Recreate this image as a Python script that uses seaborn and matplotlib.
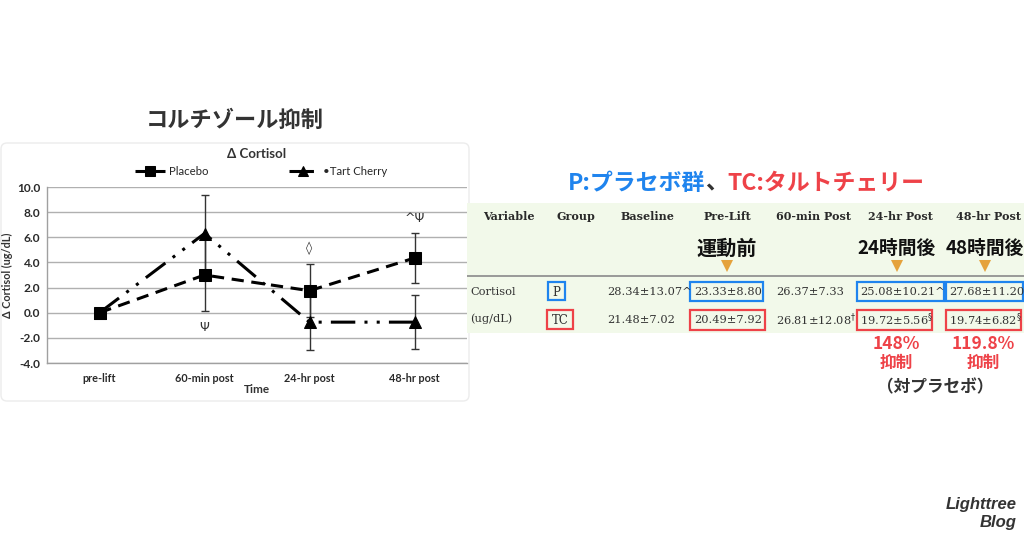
import numpy as np
import pandas as pd
import seaborn as sns
import matplotlib.pyplot as plt
from matplotlib.patches import Rectangle, FancyBboxPatch

# data
time_points = ["pre-lift", "60-min post", "24-hr post", "48-hr post"]
placebo_mean = [0.0, 3.0, 1.75, 4.35]
placebo_err = [0.0, 2.9, 2.1, 2.0]
cherry_mean = [0.0, 6.3, -0.75, -0.75]
cherry_err = [0.0, 3.1, 2.2, 2.15]
sig_marks = ["", "Ψ", "◊", "^Ψ"]
sig_y = [0.0, -1.15, 5.15, 7.5]
y_ticks = [-4.0, -2.0, 0.0, 2.0, 4.0, 6.0, 8.0, 10.0]

# table data
table_headers = ["Variable", "Group", "Baseline", "Pre-Lift", "60-min Post", "24-hr Post", "48-hr Post"]
p_row = ["28.34±13.07^", "23.33±8.80", "26.37±7.33", "25.08±10.21^", "27.68±11.20"]
tc_row = ["21.48±7.02", "20.49±7.92", r"26.81±12.08$^{\dagger}$", r"19.72±5.56$^{\S}$", r"19.74±6.82$^{\S}$"]
jp_labels = ["運動前", "24時間後", "48時間後"]
suppression = ["148%", "119.8%"]

BLUE = "#1f84ee"
RED = "#ee4248"
DARK = "#333333"

sns.set_theme(style="whitegrid")
plt.rcParams['font.family'] = ['Noto Sans CJK JP', 'DejaVu Sans']

fig = plt.figure(figsize=(10.24, 5.38), dpi=100)
fig.patch.set_facecolor("white")

# background / annotation layer in pixel coordinates
bg = fig.add_axes([0, 0, 1, 1], zorder=0)
bg.set_xlim(0, 1024)
bg.set_ylim(538, 0)
bg.axis("off")

bg.add_patch(FancyBboxPatch((1, 143), 468, 258, boxstyle="round,pad=0,rounding_size=6",
                            fc="white", ec="#ececec", lw=1))
bg.text(235, 120, "コルチゾール抑制", ha="center", va="center", fontsize=16,
        fontweight="bold", color=DARK)

# ---- chart ----
ax = fig.add_axes([47 / 1024, 1 - 363 / 538, 420 / 1024, 176 / 538], zorder=1)
df = pd.DataFrame({
    "x": list(range(4)) * 2,
    "value": placebo_mean + cherry_mean,
    "Group": ["Placebo"] * 4 + ["•Tart Cherry"] * 4,
})
sns.lineplot(data=df, x="x", y="value", style="Group",
             markers={"Placebo": "s", "•Tart Cherry": "^"},
             dashes={"Placebo": (4, 2.5), "•Tart Cherry": (8, 3, 1, 3, 1, 3)},
             color="black", lw=2.2, markersize=9, markeredgecolor="black", ax=ax)

xs = np.arange(4)
ax.errorbar(xs[1:], placebo_mean[1:], yerr=placebo_err[1:], fmt="none",
            ecolor="#333333", elinewidth=1, capsize=3, zorder=1)
ax.errorbar(xs[1:], cherry_mean[1:], yerr=cherry_err[1:], fmt="none",
            ecolor="#333333", elinewidth=1, capsize=3, zorder=1)
for i in range(1, 4):
    ax.text(xs[i], sig_y[i], sig_marks[i], ha="center", va="center",
            fontsize=9, color="#333333", family=["DejaVu Sans"])

ax.set_xlim(-0.5, 3.5)
ax.set_ylim(-4, 10)
ax.set_xticks(xs, time_points)
ax.set_yticks(y_ticks, [f"{v:.1f}" for v in y_ticks])
ax.grid(axis="x", visible=False)
ax.grid(axis="y", color="#b0b0b0", lw=1)
for s in ["top", "right"]:
    ax.spines[s].set_visible(False)
for s in ["left", "bottom"]:
    ax.spines[s].set_color("#a0a0a0")
    ax.spines[s].set_linewidth(1)
ax.tick_params(axis="both", length=0, colors="#2a2a2a")
ax.tick_params(axis="x", pad=7)
ax.tick_params(axis="y", pad=5)
for lab in ax.get_xticklabels():
    lab.set_family(["Lato", "DejaVu Sans"])
    lab.set_fontweight("bold")
    lab.set_fontsize(7.8)
for lab in ax.get_yticklabels():
    lab.set_family(["Lato", "DejaVu Sans"])
    lab.set_fontweight("bold")
    lab.set_fontsize(8.6)
ax.set_xlabel("Time", fontsize=8.5, fontweight="bold", labelpad=0, color=DARK,
              family=["Lato", "DejaVu Sans"])
ax.set_ylabel("Δ Cortisol (ug/dL)", fontsize=7.8, fontweight="bold", labelpad=3,
              color=DARK, family=["Lato", "DejaVu Sans"])
ax.set_title("Δ Cortisol", fontsize=9.5, fontweight="bold", color=DARK, pad=21,
             family=["Lato", "DejaVu Sans"])

leg = ax.get_legend()
handles = leg.legend_handles
labels = [t.get_text() for t in leg.get_texts()]
for h in handles:
    h.set_markersize(6.5)
ax.legend(handles, labels, loc="center", bbox_to_anchor=(0.51, 1.09), ncol=2,
          frameon=False, handlelength=2.6, handletextpad=0.4, columnspacing=7.0,
          borderaxespad=0, prop={"family": ["Lato", "DejaVu Sans"], "size": 8.2})

# ---- right side: table ----
bg.text(568, 183, "P:プラセボ群", ha="left", va="center", fontsize=16.5,
        fontweight="bold", color=BLUE)
bg.text(705, 183, "、", ha="left", va="center", fontsize=16.5,
        fontweight="bold", color=DARK)
bg.text(727, 183, "TC:タルトチェリー", ha="left", va="center", fontsize=16.5,
        fontweight="bold", color=RED)

bg.add_patch(Rectangle((467, 203), 557, 130, fc="#f2f9ea", ec="none"))
bg.hlines(276, 467, 1024, color="#8a8a8a", lw=1.2)

header_x = [509, 576, 647, 727, 813, 900, 988]
for hx, h in zip(header_x, table_headers):
    bg.text(hx, 217, h, ha="center", va="center", fontsize=8, fontweight="bold",
            color="#2a2a2a", family=["DejaVu Serif"])

jp_x = [727, 897, 985]
jp_size = [14.5, 13.5, 13.5]
for jx, j, js in zip(jp_x, jp_labels, jp_size):
    bg.text(jx, 248, j, ha="center", va="center", fontsize=js,
            fontweight="bold", color="#111111")
    bg.scatter([jx], [266], marker="v", s=75, color="#e5a23c", edgecolors="none")

serif = ["DejaVu Serif"]
bg.text(470, 292, "Cortisol", ha="left", va="center", fontsize=8.2, color=DARK, family=serif)
bg.text(470, 319, "(ug/dL)", ha="left", va="center", fontsize=8.2, color=DARK, family=serif)
bg.text(556.5, 292, "P", ha="center", va="center", fontsize=8.5, color=DARK, family=serif)
bg.text(560, 320, "TC", ha="center", va="center", fontsize=8.5, color=DARK, family=serif)

cell_x = [607, 694, 776, 860, 949]
for cx, pv, tv in zip(cell_x, p_row, tc_row):
    bg.text(cx, 292, pv, ha="left", va="center", fontsize=8.2, color=DARK, family=serif)
    bg.text(cx, 320, tv, ha="left", va="center", fontsize=8.2, color=DARK, family=serif)

boxes = [
    ((548, 282, 17, 18), BLUE), ((547, 310, 26, 19), RED),
    ((690, 282, 73, 19), BLUE), ((690, 310, 75, 20), RED),
    ((857, 282, 87, 19), BLUE), ((857, 310, 75, 20), RED),
    ((946, 282, 77, 19), BLUE), ((946, 310, 75, 20), RED),
]
for (bx, by, bw, bh), c in boxes:
    bg.add_patch(Rectangle((bx, by), bw, bh, fill=False, ec=c, lw=1.6))

sup_x = [896, 983]
for sx, sv in zip(sup_x, suppression):
    bg.text(sx, 344, sv, ha="center", va="center", fontsize=12.5, fontweight="bold", color=RED)
    bg.text(sx, 363, "抑制", ha="center", va="center", fontsize=12, fontweight="bold", color=RED)
bg.text(935, 387, "（対プラセボ）", ha="center", va="center", fontsize=12,
        fontweight="bold", color=DARK)

bg.text(1017, 505, "Lighttree", ha="right", va="center", fontsize=12,
        fontweight="bold", style="italic", color=DARK, family=["Liberation Sans"])
bg.text(1017, 522, "Blog", ha="right", va="center", fontsize=12,
        fontweight="bold", style="italic", color=DARK, family=["Liberation Sans"])

fig.savefig("out.png", dpi=100)
